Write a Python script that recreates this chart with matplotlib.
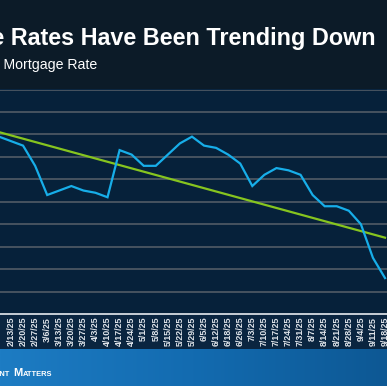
import numpy as np
import matplotlib
matplotlib.use("Agg")
import matplotlib.pyplot as plt
from matplotlib.colors import LinearSegmentedColormap

# weekly 30-yr fixed rate
dates = ['1/30/25', '2/6/25', '2/13/25', '2/20/25', '2/27/25', '3/6/25', '3/13/25',
         '3/20/25', '3/27/25', '4/3/25', '4/10/25', '4/17/25', '4/24/25', '5/1/25',
         '5/8/25', '5/15/25', '5/22/25', '5/29/25', '6/5/25', '6/12/25', '6/18/25',
         '6/26/25', '7/3/25', '7/10/25', '7/17/25', '7/24/25', '7/31/25', '8/7/25',
         '8/14/25', '8/21/25', '8/28/25', '9/4/25', '9/11/25', '9/18/25']
rates = [6.95, 6.89, 6.87, 6.85, 6.76, 6.63, 6.65, 6.67, 6.65, 6.64, 6.62, 6.83,
         6.81, 6.76, 6.76, 6.81, 6.86, 6.89, 6.85, 6.84, 6.81, 6.77, 6.67, 6.72,
         6.75, 6.74, 6.72, 6.63, 6.58, 6.58, 6.56, 6.50, 6.35, 6.26]

# trend line ends
trend_idx = [0, 33]
trend_vals = [6.925, 6.44]

grid_levels = [6.2, 6.3, 6.4, 6.5, 6.6, 6.7, 6.8, 6.9, 7.0, 7.1]

W, H = 387, 386
fig = plt.figure(figsize=(W / 100, H / 100), dpi=100)
fig.patch.set_facecolor('#0a2540')

def fx(px):
    return px / W

def fy(py):
    return 1 - py / H

# header band
hdr = fig.add_axes([0, fy(89), 1, 1 - fy(89)])
hdr.set_facecolor('#0c1b28')
hdr.set_xticks([]); hdr.set_yticks([])
for s in hdr.spines.values():
    s.set_visible(False)

# footer banner with gradient
ban = fig.add_axes([0, 0, 1, fy(349)])
grad = np.linspace(0, 1, 256).reshape(1, -1)
cmap = LinearSegmentedColormap.from_list('b', ['#1d7cc3', '#136bb0', '#0d5894'])
ban.imshow(grad, aspect='auto', cmap=cmap, extent=[0, 1, 0, 1])
ban.set_xlim(0, 1); ban.set_ylim(0, 1)
ban.axis('off')

# main plot
ax = fig.add_axes([0, fy(314), 1, fy(89.5) - fy(314)])
ax.set_facecolor('#06213a')
x = np.arange(len(dates))
for g in grid_levels:
    ax.axhline(g, color='#4b5762', lw=1.3, zorder=1)
ax.plot(trend_idx, trend_vals, color='#86c51f', lw=1.6, zorder=3)
ax.plot(x, rates, color='#17aee9', lw=1.6, zorder=4, solid_joinstyle='miter')

ax.set_yticks([])
ax.set_xticks(x)
ax.set_xticklabels(dates, rotation=90, fontsize=6.4, color='#dfe4ea',
                   family=['Liberation Sans Narrow', 'Liberation Sans'],
                   fontweight='bold')
ax.tick_params(axis='x', length=0, pad=2)
for lab in ax.get_xticklabels():
    lab.set_verticalalignment('top')
ax.set_ylim(6.1, 7.1)
ax.set_xlim(1.088, 1.088 + W / 12.065)
for side in ['top', 'left', 'right']:
    ax.spines[side].set_visible(False)
ax.spines['bottom'].set_color('#d6dce2')
ax.spines['bottom'].set_linewidth(1.3)

# titles
fig.text(fx(376), fy(45), 'Mortgage Rates Have Been Trending Down', ha='right',
         va='baseline', color='white', fontsize=16.8, fontweight='bold',
         family='Liberation Sans')
fig.text(fx(97), fy(69), '30-Year Fixed Mortgage Rate', ha='right', va='baseline',
         color='white', fontsize=10.2, family='Liberation Sans')

# footer brand in small caps
fig.text(fx(9.5), fy(376), 'KEEPING CURRENT', ha='right', va='baseline',
         color='white', fontsize=5.4, fontweight='bold', family='Liberation Sans')
fig.text(fx(13), fy(376), 'M', ha='left', va='baseline',
         color='white', fontsize=8, fontweight='bold', family='Liberation Sans')
fig.text(fx(23), fy(376), 'ATTERS', ha='left', va='baseline',
         color='white', fontsize=5.4, fontweight='bold', family='Liberation Sans')

fig.savefig('out.png', dpi=100, facecolor=fig.get_facecolor())
